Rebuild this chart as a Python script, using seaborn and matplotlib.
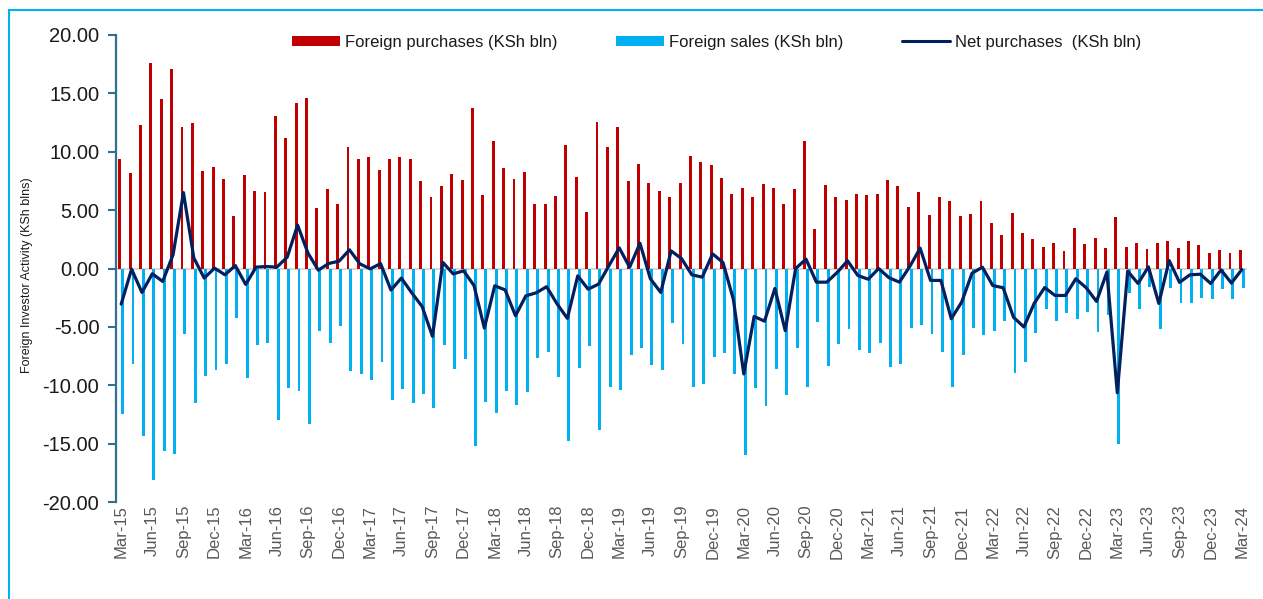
import numpy as np
import pandas as pd
import matplotlib
matplotlib.use("Agg")
import matplotlib.pyplot as plt
from matplotlib.patches import Rectangle, Patch
from matplotlib.lines import Line2D
from matplotlib.ticker import FormatStrFormatter
import seaborn as sns

# Monthly categories, Mar-2015 .. Mar-2024
months = pd.date_range("2015-03-01", periods=109, freq="MS").strftime("%b-%y").tolist()

# Foreign purchases (KSh bn)
purchases = [
    9.37, 8.15, 12.31, 17.64, 14.53, 17.12, 12.14, 12.42, 8.38, 8.69,
    7.64, 4.50, 8.03, 6.67, 6.55, 13.08, 11.17, 14.17, 14.62, 5.19,
    6.84, 5.56, 10.40, 9.40, 9.54, 8.43, 9.40, 9.52, 9.40, 7.49,
    6.13, 7.04, 8.12, 7.58, 13.79, 6.32, 10.91, 8.63, 7.66, 8.23,
    5.56, 5.56, 6.24, 10.54, 7.86, 4.87, 12.51, 10.37, 12.14, 7.52,
    8.97, 7.35, 6.64, 6.15, 7.32, 9.60, 9.15, 8.83, 7.72, 6.38,
    6.92, 6.15, 7.26, 6.92, 5.50, 6.84, 10.91, 3.42, 7.15, 6.13,
    5.87, 6.38, 6.32, 6.38, 7.61, 7.04, 5.27, 6.58, 4.62, 6.13,
    5.81, 4.53, 4.70, 5.78, 3.90, 2.85, 4.79, 3.02, 2.56, 1.85,
    2.19, 1.54, 3.48, 2.11, 2.62, 1.74, 4.39, 1.85, 2.22, 1.71,
    2.17, 2.39, 1.74, 2.39, 2.05, 1.31, 1.62, 1.34, 1.62,
]

# Foreign sales (KSh bn), shown below zero
sales = [
    -12.42, -8.21, -14.36, -18.09, -15.64, -15.93, -5.64, -11.51, -9.20, -8.66,
    -8.18, -4.25, -9.40, -6.55, -6.38, -12.96, -10.20, -10.45, -13.30, -5.33,
    -6.41, -4.93, -8.80, -9.00, -9.57, -8.01, -11.25, -10.34, -11.48, -10.74,
    -11.94, -6.52, -8.58, -7.78, -15.24, -11.42, -12.39, -10.46, -11.71, -10.57,
    -7.64, -7.12, -9.26, -14.81, -8.49, -6.64, -13.85, -10.14, -10.37, -7.41,
    -6.81, -8.23, -8.69, -4.64, -6.47, -10.14, -9.89, -7.58, -7.21, -9.03,
    -15.95, -10.26, -11.77, -8.63, -10.83, -6.84, -10.11, -4.59, -8.32, -6.47,
    -5.21, -6.98, -7.24, -6.38, -8.40, -8.21, -5.10, -4.84, -5.64, -7.15,
    -10.11, -7.41, -5.10, -5.67, -5.36, -4.50, -8.97, -8.03, -5.53, -3.48,
    -4.50, -3.85, -4.36, -3.76, -5.44, -4.00, -15.04, -2.08, -3.50, -1.57,
    -5.16, -1.71, -2.93, -2.93, -2.54, -2.59, -1.74, -2.59, -1.71,
]

# Net purchases (KSh bn)
net = [
    -3.05, -0.06, -2.05, -0.45, -1.11, 1.19, 6.50, 0.91, -0.82, 0.03,
    -0.54, 0.25, -1.37, 0.12, 0.17, 0.12, 0.97, 3.72, 1.32, -0.14,
    0.43, 0.63, 1.60, 0.40, -0.03, 0.42, -1.85, -0.82, -2.08, -3.25,
    -5.81, 0.52, -0.46, -0.20, -1.45, -5.10, -1.48, -1.83, -4.05, -2.34,
    -2.08, -1.56, -3.02, -4.27, -0.63, -1.77, -1.34, 0.23, 1.77, 0.11,
    2.16, -0.88, -2.05, 1.51, 0.85, -0.54, -0.74, 1.25, 0.51, -2.65,
    -9.03, -4.11, -4.51, -1.71, -5.33, 0.00, 0.80, -1.17, -1.17, -0.34,
    0.66, -0.60, -0.92, 0.00, -0.79, -1.17, 0.17, 1.74, -1.02, -1.02,
    -4.30, -2.88, -0.40, 0.11, -1.46, -1.65, -4.18, -5.01, -2.97, -1.63,
    -2.31, -2.31, -0.88, -1.65, -2.82, -0.30, -10.65, -0.23, -1.28, 0.14,
    -2.99, 0.68, -1.19, -0.54, -0.49, -1.28, -0.12, -1.25, -0.09,
]

label_purchases = "Foreign purchases (KSh bln)"
label_sales = "Foreign sales (KSh bln)"
label_net = "Net purchases  (KSh bln)"
y_label = "Foreign Investor Activity (KSh blns)"
y_ticks = [-20, -15, -10, -5, 0, 5, 10, 15, 20]
tick_months = months[::3]

RED = "#C00000"
BLUE = "#00B0F0"
NAVY = "#002060"
SPINE = "#31708E"

sns.set_style("white")
plt.rcParams["font.family"] = ["Liberation Sans", "DejaVu Sans"]

df = pd.DataFrame({
    "month": months * 2,
    "value": purchases + sales,
    "series": [label_purchases] * len(months) + [label_sales] * len(months),
})

fig = plt.figure(figsize=(12.63, 5.99), dpi=100)
ax = fig.add_axes([116 / 1263, 97 / 599, 1131 / 1263, 467 / 599])

ax.axhline(0, color="#D9D9D9", lw=1.5, zorder=0.5)

sns.barplot(
    data=df, x="month", y="value", hue="series",
    order=months, hue_order=[label_purchases, label_sales],
    palette={label_purchases: RED, label_sales: BLUE},
    width=0.56, saturation=1, errorbar=None, linewidth=0,
    legend=False, ax=ax, zorder=2,
)

sns.lineplot(x=np.arange(len(months)), y=net, color=NAVY, linewidth=2.3,
             ax=ax, zorder=5)

ax.set_xlim(-0.5, len(months) - 0.5)
ax.set_ylim(-20, 20)
ax.set_yticks(y_ticks)
ax.yaxis.set_major_formatter(FormatStrFormatter("%.2f"))
ax.set_xticks(range(0, len(months), 3))
ax.set_xticklabels(tick_months, rotation=90)
ax.set_xlabel("")

for side in ("top", "right", "bottom"):
    ax.spines[side].set_visible(False)
ax.spines["left"].set_color(SPINE)
ax.spines["left"].set_linewidth(1.6)

ax.tick_params(axis="y", direction="out", length=6, width=1.5, color=SPINE,
               labelsize=14.5, labelcolor="#1a1a1a", pad=6, left=True)
ax.tick_params(axis="x", length=0, labelsize=12, labelcolor="#595959", pad=2)

ax.set_ylabel(y_label, fontsize=9, color="#1a1a1a")
ax.yaxis.set_label_coords(-0.0735, 0.486)

handles = [
    Patch(facecolor=RED, edgecolor="none"),
    Patch(facecolor=BLUE, edgecolor="none"),
    Line2D([0], [0], color=NAVY, lw=2.2),
]
ax.legend(handles, [label_purchases, label_sales, label_net],
          loc="center", bbox_to_anchor=(0.531, 0.985), ncol=3, frameon=False,
          fontsize=12, handlelength=2.9, handleheight=0.55, handletextpad=0.3,
          columnspacing=3.5, labelcolor="#1a1a1a")

fig.add_artist(Rectangle((9 / 1263, -0.1), 1.2, 1 - 10 / 599 + 0.1,
                         transform=fig.transFigure, fill=False,
                         edgecolor=BLUE, lw=1.5, clip_on=False))

fig.savefig("out.png", dpi=100)
